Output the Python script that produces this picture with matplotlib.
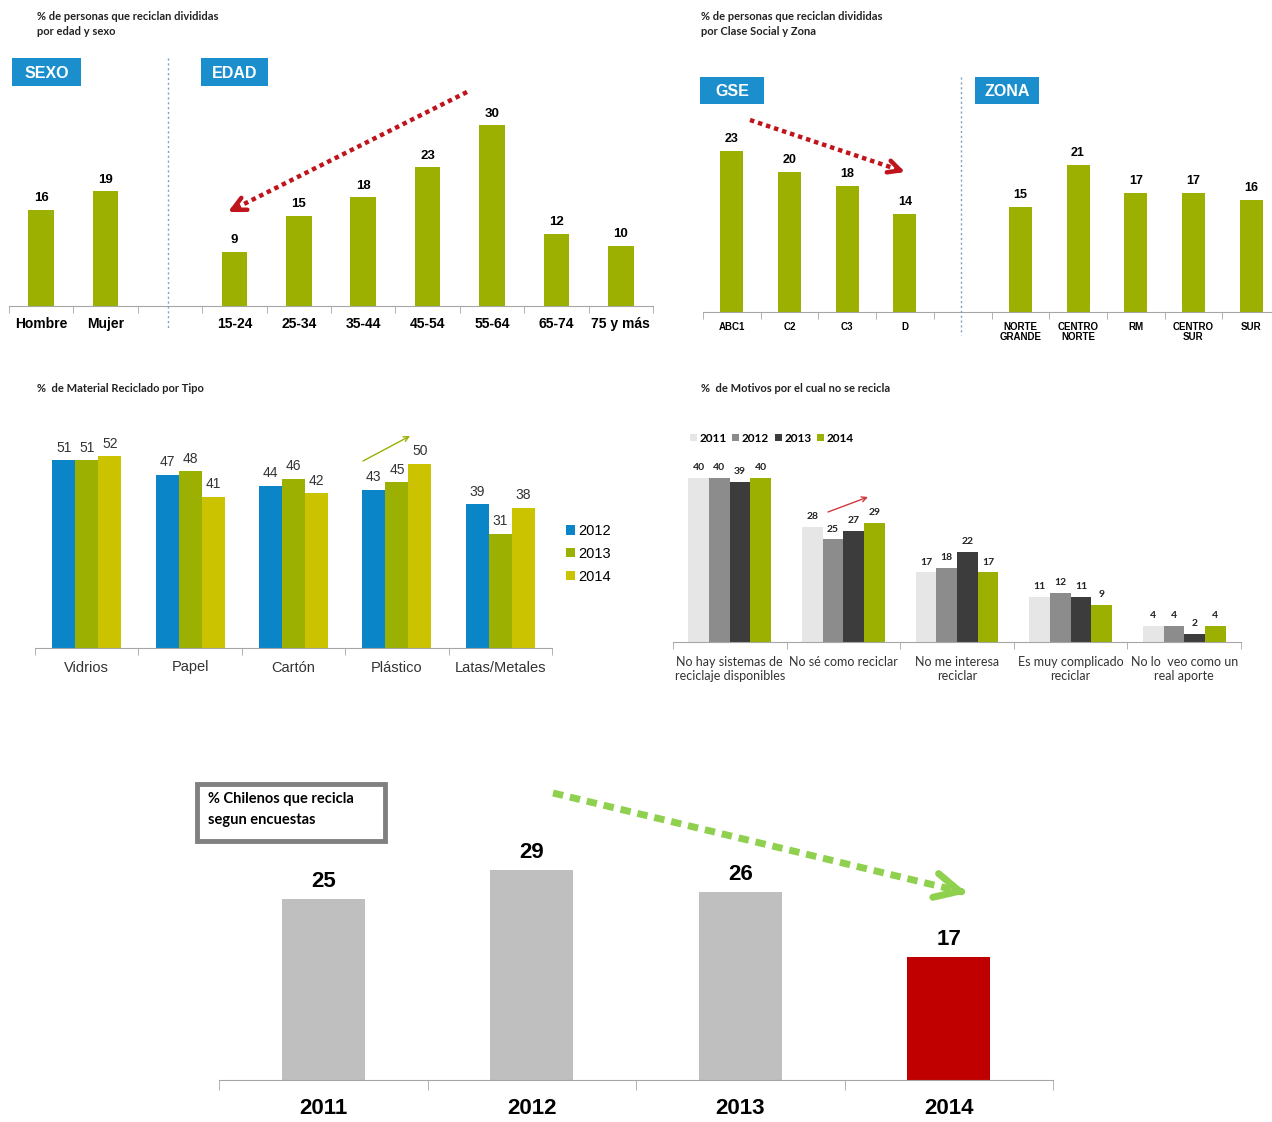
import matplotlib
matplotlib.use('Agg')
import matplotlib.pyplot as plt
import numpy as np
from matplotlib.patches import Rectangle, FancyArrowPatch
from matplotlib.lines import Line2D

W, H = 1272, 1122

# ---- data ----
sexo_labels = ['Hombre', 'Mujer']
sexo_vals = [16, 19]
edad_labels = ['15-24', '25-34', '35-44', '45-54', '55-64', '65-74', '75 y más']
edad_vals = [9, 15, 18, 23, 30, 12, 10]

gse_labels = ['ABC1', 'C2', 'C3', 'D']
gse_vals = [23, 20, 18, 14]
zona_labels = ['NORTE\nGRANDE', 'CENTRO\nNORTE', 'RM', 'CENTRO\nSUR', 'SUR']
zona_vals = [15, 21, 17, 17, 16]

material_labels = ['Vidrios', 'Papel', 'Cartón', 'Plástico', 'Latas/Metales']
material_years = ['2012', '2013', '2014']
material_2012 = [51, 47, 44, 43, 39]
material_2013 = [51, 48, 46, 45, 31]
material_2014 = [52, 41, 42, 50, 38]

motivo_labels = ['No hay sistemas de\nreciclaje disponibles', 'No sé como reciclar',
                 'No me interesa\nreciclar', 'Es muy complicado\nreciclar',
                 'No lo  veo como un\nreal aporte']
motivo_years = ['2011', '2012', '2013', '2014']
motivo_2011 = [40, 28, 17, 11, 4]
motivo_2012 = [40, 25, 18, 12, 4]
motivo_2013 = [39, 27, 22, 11, 2]
motivo_2014 = [40, 29, 17, 9, 4]

total_years = ['2011', '2012', '2013', '2014']
total_vals = [25, 29, 26, 17]

# ---- colours ----
olive = '#9BB000'
blue = '#0A86C8'
yellow = '#CBC300'
box_blue = '#1B8FCE'
red = '#C0141C'
axis_gray = '#A6A6A6'
sans = ['Liberation Sans', 'DejaVu Sans']
calib = ['Lato', 'DejaVu Sans']

fig = plt.figure(figsize=(W / 100, H / 100), dpi=100)


def px_axes(left, top, right, bottom):
    return fig.add_axes([left / W, 1 - bottom / H, (right - left) / W, (bottom - top) / H])


def fp(x, y):
    return (x / W, 1 - y / H)


def base_style(ax, n, positions, labels, fs, weight, family, color='black', pad=6):
    ax.set_xlim(-0.5, n - 0.5)
    for s in ['top', 'right', 'left']:
        ax.spines[s].set_visible(False)
    ax.spines['bottom'].set_color(axis_gray)
    ax.set_yticks([])
    ax.set_xticks(positions)
    ax.set_xticklabels(labels, fontsize=fs, fontweight=weight, family=family, color=color)
    ax.set_xticks(np.arange(-0.5, n, 1), minor=True)
    ax.tick_params(axis='x', which='major', length=0, pad=pad)
    ax.tick_params(axis='x', which='minor', length=5, color=axis_gray, direction='out')
    ax.patch.set_alpha(0)


def blue_box(x0, y0, x1, y1, label):
    fig.add_artist(Rectangle(fp(x0, y1), (x1 - x0) / W, (y1 - y0) / H,
                             transform=fig.transFigure, fc=box_blue, ec='none'))
    fig.text(*fp((x0 + x1) / 2, (y0 + y1) / 2 + 1), label, color='white', fontsize=11.5,
             fontweight='bold', family=sans, ha='center', va='center')


def divider(x, y0, y1):
    fig.add_artist(Line2D([x / W, x / W], [1 - y0 / H, 1 - y1 / H], transform=fig.transFigure,
                          color='#7F9FBF', lw=1, ls=(0, (1.5, 2))))


def dotted_arrow(x0, y0, x1, y1, color, lw, head_scale, dash=(1.0, 0.9)):
    d = np.array([x1 - x0, y1 - y0], dtype=float)
    d /= np.hypot(*d)
    fig.add_artist(Line2D([x0 / W, (x1 - 5 * d[0]) / W], [1 - y0 / H, 1 - (y1 - 5 * d[1]) / H],
                          transform=fig.transFigure, color=color, lw=lw, ls=(0, dash)))
    sx, sy = x1 - 7 * d[0], y1 - 7 * d[1]
    fig.add_artist(FancyArrowPatch(fp(sx, sy), fp(x1, y1), transform=fig.transFigure,
                                   arrowstyle='->', mutation_scale=head_scale, lw=lw,
                                   color=color, shrinkA=0, shrinkB=0))


def thin_arrow(x0, y0, x1, y1, color):
    fig.add_artist(FancyArrowPatch(fp(x0, y0), fp(x1, y1), transform=fig.transFigure,
                                   arrowstyle='->', mutation_scale=9, lw=1,
                                   color=color, shrinkA=0, shrinkB=0))


def title(x, y, txt):
    fig.text(*fp(x, y), txt, fontsize=8, fontweight='bold', family=calib,
             va='top', ha='left', linespacing=1.45, color='#222222')


# ---- panel 1: edad y sexo ----
ax1 = px_axes(9, 95, 653, 306)
pos_sexo = [0, 1]
pos_edad = list(range(3, 10))
bs = ax1.bar(pos_sexo, sexo_vals, 0.4, color=olive)
be = ax1.bar(pos_edad, edad_vals, 0.4, color=olive)
ax1.set_ylim(0, 35)
base_style(ax1, 10, pos_sexo + pos_edad, sexo_labels + edad_labels, 10, 'bold', sans, pad=8)
for b in (bs, be):
    ax1.bar_label(b, padding=4, fontsize=9.5, fontweight='bold', family=sans)
title(37, 11, '% de personas que reciclan divididas\npor edad y sexo')
blue_box(12, 58, 81, 86, 'SEXO')
blue_box(201, 58, 268, 86, 'EDAD')
divider(168, 58, 328)
dotted_arrow(467, 92, 228, 212, red, 3.2, 24)

# ---- panel 2: GSE y zona ----
ax2 = px_axes(703, 102, 1280, 312)
pos_gse = list(range(0, 4))
pos_zona = list(range(5, 10))
bg = ax2.bar(pos_gse, gse_vals, 0.4, color=olive)
bz = ax2.bar(pos_zona, zona_vals, 0.4, color=olive)
ax2.set_ylim(0, 30)
base_style(ax2, 10, pos_gse + pos_zona, gse_labels + zona_labels, 7, 'bold', sans, pad=7)
for lab in ax2.get_xticklabels():
    lab.set_linespacing(1.05)
for b in (bg, bz):
    ax2.bar_label(b, padding=4, fontsize=9, fontweight='bold', family=sans)
title(701, 11, '% de personas que reciclan divididas\npor Clase Social y Zona')
blue_box(700, 77, 764, 104, 'GSE')
blue_box(975, 77, 1039, 104, 'ZONA')
divider(961, 77, 335)
dotted_arrow(750, 120, 905, 172, red, 3.2, 22)

# ---- panel 3: material reciclado ----
ax3 = px_axes(35, 427, 552, 648)
x3 = np.arange(len(material_labels))
w3 = 0.223
series3 = [material_2012, material_2013, material_2014]
colors3 = [blue, olive, yellow]
bars3 = []
for i, (vals, c, yr) in enumerate(zip(series3, colors3, material_years)):
    b = ax3.bar(x3 + (i - 1) * w3, vals, w3, color=c, label=yr)
    ax3.bar_label(b, padding=4, fontsize=10, family=sans, color='#333333')
    bars3.append(b)
ax3.set_ylim(0, 60)
base_style(ax3, 5, x3, material_labels, 10.5, 'normal', sans, color='#333333', pad=9)
fig.legend(handles=bars3, labels=material_years, loc='upper left',
           bbox_to_anchor=fp(553, 511), frameon=False,
           handlelength=0.6, handleheight=0.6, handletextpad=0.2, labelspacing=0.6,
           prop={'family': sans, 'size': 10.5})
title(37, 383, '%  de Material Reciclado por Tipo')
thin_arrow(363, 461, 410, 436, '#9BB000')

# ---- panel 4: motivos ----
ax4 = px_axes(673, 457, 1241, 642)
x4 = np.arange(len(motivo_labels))
w4 = 0.182
series4 = [motivo_2011, motivo_2012, motivo_2013, motivo_2014]
colors4 = ['#E6E6E6', '#8C8C8C', '#3C3C3C', olive]
bars4 = []
for i, (vals, c) in enumerate(zip(series4, colors4)):
    b = ax4.bar(x4 + (i - 1.5) * w4, vals, w4, color=c)
    ax4.bar_label(b, padding=4, fontsize=7.5, fontweight='bold', family=calib, color='#222222')
    bars4.append(b)
ax4.set_ylim(0, 45)
base_style(ax4, 5, x4, motivo_labels, 9, 'normal', calib, color='#333333', pad=10)
for lab in ax4.get_xticklabels():
    lab.set_linespacing(1.2)
fig.legend(handles=bars4, labels=motivo_years, loc='center left',
           bbox_to_anchor=fp(679, 438), frameon=False, ncol=4,
           handlelength=0.6, handleheight=0.6, handletextpad=0.2, columnspacing=0.5,
           prop={'family': calib, 'size': 8.5, 'weight': 'bold'})
title(701, 383, '%  de Motivos por el cual no se recicla')
thin_arrow(828, 512, 868, 497, '#D0383C')

# ---- panel 5: total ----
ax5 = px_axes(219, 848, 1053, 1080)
x5 = np.arange(len(total_years))
b5 = ax5.bar(x5, total_vals, 0.4, color=['#BFBFBF'] * 3 + ['#C00000'])
ax5.set_ylim(0, 32)
base_style(ax5, 4, x5, total_years, 16, 'bold', sans, pad=13)
ax5.tick_params(axis='x', which='minor', length=7)
ax5.bar_label(b5, padding=5, fontsize=16, fontweight='bold', family=sans)

fig.add_artist(Rectangle(fp(197, 841), 188 / W, 57 / H, transform=fig.transFigure,
                         fc='white', ec='#808080', lw=3.5))
fig.text(*fp(208, 792), '% Chilenos que recicla\nsegun encuestas', fontsize=10.5,
         fontweight='bold', family=calib, va='top', ha='left', linespacing=1.6)
dotted_arrow(553, 793, 967, 893, '#8FD14F', 5, 44, dash=(1.5, 1.0))

fig.savefig('out.png', dpi=100)
